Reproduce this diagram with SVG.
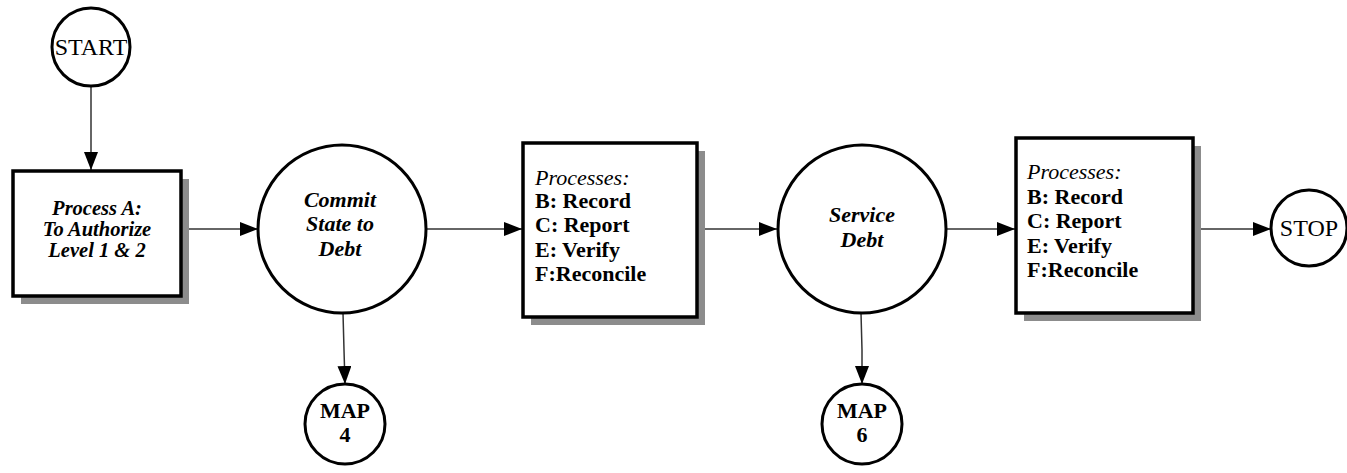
<svg xmlns="http://www.w3.org/2000/svg" width="1347" height="473" viewBox="0 0 1347 473" font-family="Liberation Serif, Times New Roman, serif">
<defs>
<marker id="arr" markerWidth="18" markerHeight="14" refX="18" refY="7" orient="auto" markerUnits="userSpaceOnUse">
<path d="M0,0 L18,7 L0,14 Z" fill="#000"/>
</marker>
<style>
.circ{fill:#fff;stroke:#000;stroke-width:3}
.box{fill:#fff;stroke:#000;stroke-width:3.5}
.shadow{fill:#8c8c8c}
.conn{stroke:#333;stroke-width:1.5;fill:none;marker-end:url(#arr)}
text{font-family:'Liberation Serif','Times New Roman',serif;fill:#000}
.bi{font-weight:bold;font-style:italic}
.b{font-weight:bold}
.i{font-style:italic}
</style>
</defs>
<rect width="1347" height="473" fill="#fff"/>
<g id="connectors">
<line class="conn" x1="91" y1="86" x2="91" y2="170"/>
<line class="conn" x1="182" y1="229" x2="258" y2="229"/>
<line class="conn" x1="427" y1="229" x2="522" y2="229"/>
<polyline class="conn" points="343,313 344,350 345,384"/>
<line class="conn" x1="698" y1="229" x2="777" y2="229"/>
<polyline class="conn" points="861,313 862,350 862,384"/>
<line class="conn" x1="946" y1="229" x2="1015" y2="229"/>
<line class="conn" x1="1194" y1="229" x2="1271" y2="229"/>
</g>
<g id="start">
<circle class="circ" cx="91" cy="47" r="39"/>
<text x="91" y="55" text-anchor="middle" font-size="24">START</text>
</g>
<g id="processA">
<rect class="shadow" x="21" y="179" width="168" height="125"/>
<rect class="box" x="13" y="171" width="168" height="125"/>
<text class="bi" x="97" text-anchor="middle" font-size="20.5"><tspan x="97" y="215">Process A:</tspan><tspan x="97" y="236">To Authorize</tspan><tspan x="97" y="257">Level 1 &amp; 2</tspan></text>
</g>
<g id="commit">
<circle class="circ" cx="342" cy="229" r="84"/>
<text class="bi" text-anchor="middle" font-size="22"><tspan x="340" y="207">Commit</tspan><tspan x="340" y="231">State to</tspan><tspan x="340" y="256">Debt</tspan></text>
</g>
<g id="map4">
<circle class="circ" cx="345" cy="424" r="40"/>
<text class="b" text-anchor="middle" font-size="22"><tspan x="345" y="418">MAP</tspan><tspan x="345" y="442">4</tspan></text>
</g>
<g id="processes1">
<rect class="shadow" x="531" y="151" width="174" height="174"/>
<rect class="box" x="523" y="143" width="174" height="174"/>
<text font-size="22"><tspan class="i" x="535" y="185">Processes:</tspan><tspan class="b" x="535" y="208">B: Record</tspan><tspan class="b" x="535" y="232">C: Report</tspan><tspan class="b" x="535" y="257">E: Verify</tspan><tspan class="b" x="535" y="281">F:Reconcile</tspan></text>
</g>
<g id="service">
<circle class="circ" cx="862" cy="229" r="84"/>
<text class="bi" text-anchor="middle" font-size="22"><tspan x="862" y="222">Service</tspan><tspan x="862" y="247">Debt</tspan></text>
</g>
<g id="map6">
<circle class="circ" cx="862" cy="424" r="40"/>
<text class="b" text-anchor="middle" font-size="22"><tspan x="862" y="418">MAP</tspan><tspan x="862" y="442">6</tspan></text>
</g>
<g id="processes2">
<rect class="shadow" x="1024" y="146" width="177" height="175"/>
<rect class="box" x="1016" y="138" width="177" height="175"/>
<text font-size="22"><tspan class="i" x="1027" y="179">Processes:</tspan><tspan class="b" x="1027" y="204">B: Record</tspan><tspan class="b" x="1027" y="228">C: Report</tspan><tspan class="b" x="1027" y="253">E: Verify</tspan><tspan class="b" x="1027" y="277">F:Reconcile</tspan></text>
</g>
<g id="stop">
<circle class="circ" cx="1309" cy="228" r="38"/>
<text x="1309" y="236" text-anchor="middle" font-size="24">STOP</text>
</g>
</svg>
